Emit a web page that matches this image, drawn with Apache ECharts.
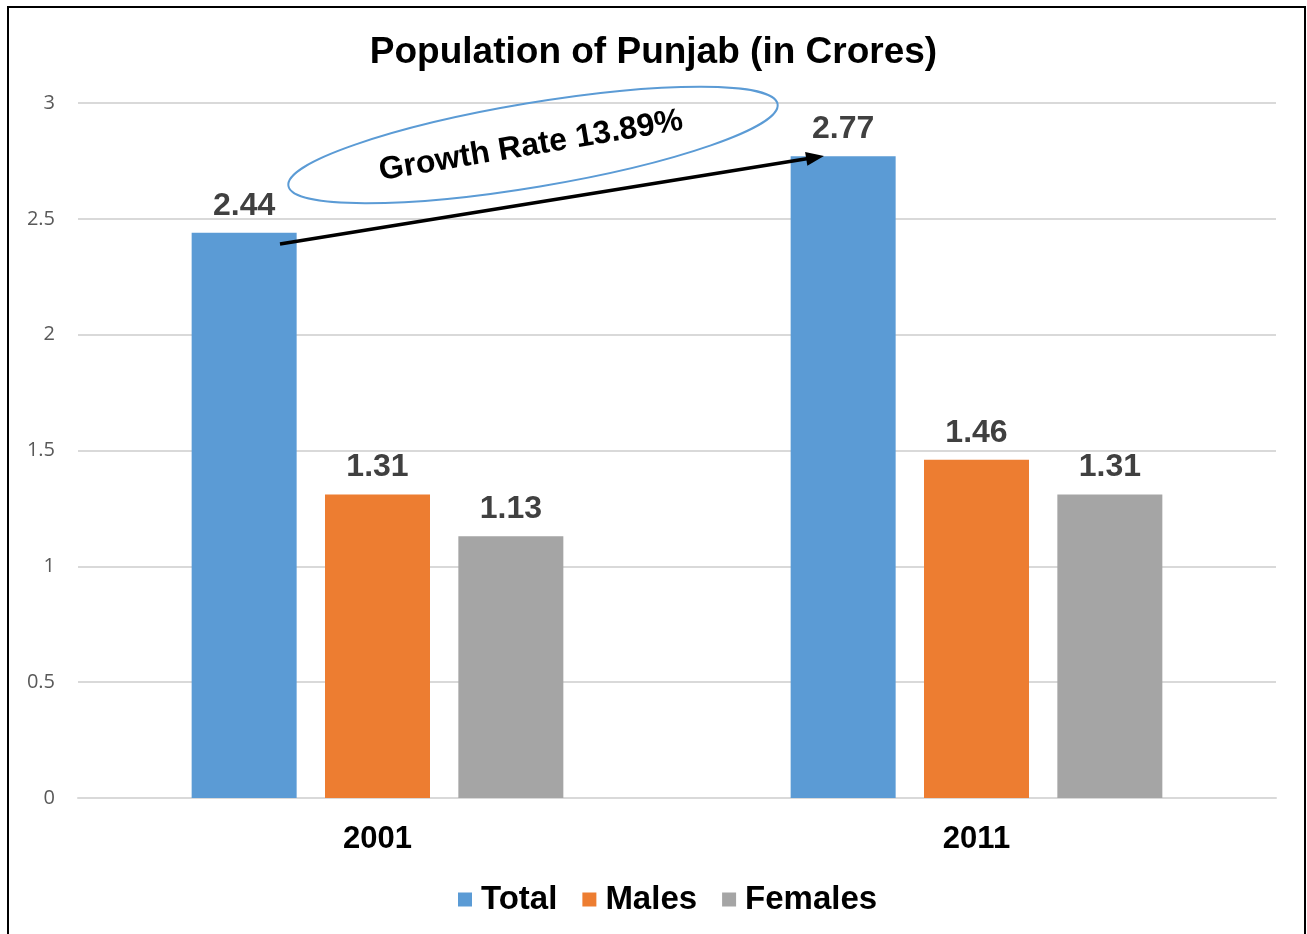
<!DOCTYPE html>
<html><head><meta charset="utf-8">
<script src="https://cdn.jsdelivr.net/npm/echarts@6/dist/echarts.min.js"></script>
<style>html,body{margin:0;padding:0;background:#fff}#c{width:1307px;height:934px}</style>
</head><body><div id="c"></div>
<script>
var categories = ['2001', '2011'];
var totalValues = [2.44, 2.77];
var malesValues = [1.31, 1.46];
var femalesValues = [1.13, 1.31];
var yTicks = [0, 0.5, 1, 1.5, 2, 2.5, 3];
var annotationText = 'Growth Rate 13.89%';

var chart = echarts.init(document.getElementById('c'));
var F = '"Liberation Sans", Arial, sans-serif';
var labelStyle = {show: true, position: 'top', distance: 11, color: '#404040', fontFamily: F, fontWeight: 'bold', fontSize: 32};
function bar(name, data, color) {
  return {name: name, type: 'bar', data: data, barWidth: 105, barGap: '27%', itemStyle: {color: color}, label: labelStyle};
}
chart.setOption({
  animation: false,
  title: {text: 'Population of Punjab (in Crores)', left: 'center', top: 29,
    textStyle: {fontFamily: F, fontWeight: 'bold', fontSize: 37, color: '#000'}},
  grid: {left: 78, right: 31, top: 103, bottom: 136},
  legend: {bottom: 13, left: 453, itemWidth: 14, itemHeight: 14, itemGap: 25, icon: 'rect',
    textStyle: {fontFamily: F, fontWeight: 'bold', fontSize: 33, color: '#000', padding: [0, 0, 0, 4]}},
  xAxis: {type: 'category', data: categories, axisTick: {show: false},
    axisLine: {lineStyle: {color: '#d9d9d9', width: 2}},
    axisLabel: {margin: 26, fontFamily: F, fontWeight: 'bold', fontSize: 31, color: '#000'}},
  yAxis: {type: 'value', min: yTicks[0], max: yTicks[yTicks.length - 1], interval: 0.5,
    axisLine: {show: false}, axisTick: {show: false},
    splitLine: {lineStyle: {color: '#d9d9d9', width: 2}},
    axisLabel: {margin: 23, fontFamily: '"Open Sans", sans-serif', fontSize: 20, color: '#595959'}},
  series: [bar('Total', totalValues, '#5B9BD5'), bar('Males', malesValues, '#ED7D31'), bar('Females', femalesValues, '#A5A5A5')]
});

// annotation arrow between the Total bars
var x1 = 280, y1 = 244, x2 = 824, y2 = 156;
var ang = Math.atan2(y2 - y1, x2 - x1);
var ah = 18, aw = 7;
var hx = x2 - ah * Math.cos(ang), hy = y2 - ah * Math.sin(ang);
chart.setOption({
  graphic: [
    {type: 'rect', z: 100, shape: {x: 8, y: 7, width: 1297, height: 1000}, style: {fill: 'none', stroke: '#000', lineWidth: 2}, silent: true},
    {type: 'line', z: 100, shape: {x1: x1, y1: y1, x2: hx + 2 * Math.cos(ang), y2: hy + 2 * Math.sin(ang)}, style: {stroke: '#000', lineWidth: 3.5}},
    {type: 'polygon', z: 100, shape: {points: [[x2, y2],
      [hx + aw * Math.sin(ang), hy - aw * Math.cos(ang)],
      [hx - aw * Math.sin(ang), hy + aw * Math.cos(ang)]]}, style: {fill: '#000'}},
    {type: 'ellipse', z: 100, x: 533, y: 145, rotation: 9.5 * Math.PI / 180,
      shape: {cx: 0, cy: 0, rx: 248, ry: 42}, style: {fill: 'none', stroke: '#5B9BD5', lineWidth: 2}},
    {type: 'text', z: 100, x: 531, y: 146, rotation: 9.5 * Math.PI / 180,
      style: {text: annotationText, fontFamily: F, fontWeight: 'bold', fontSize: 32, fill: '#000', align: 'center', verticalAlign: 'middle'}}
  ]
});
</script></body></html>
